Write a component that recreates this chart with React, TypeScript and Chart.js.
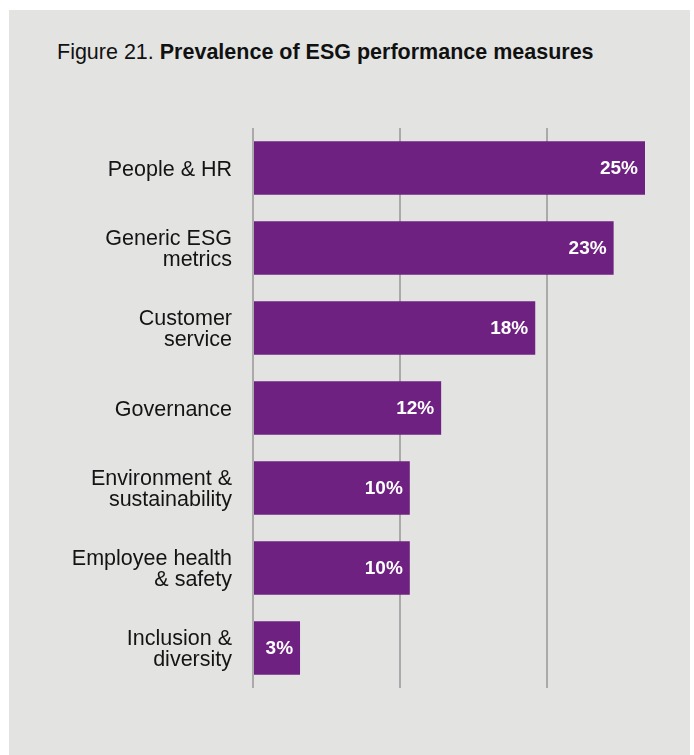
import React, { useEffect, useRef } from "react";
import { Chart, registerables } from "chart.js";

Chart.register(...registerables);

const categories: string[][] = [
  ["People & HR"],
  ["Generic ESG", "metrics"],
  ["Customer", "service"],
  ["Governance"],
  ["Environment &", "sustainability"],
  ["Employee health", "& safety"],
  ["Inclusion &", "diversity"],
];
const values: number[] = [25, 23, 18, 12, 10, 10, 3];
const gridValues: number[] = [0, 9.375, 18.75];
const axisMax = 27.87;

const FONT = "'Liberation Sans', Arial, Helvetica, sans-serif";
const BG = "#e3e4e2";
const BAR = "#6e2180";

const valueLabels = {
  id: "valueLabels",
  afterDatasetsDraw(chart: any) {
    const ctx = chart.ctx;
    const meta = chart.getDatasetMeta(0);
    ctx.save();
    ctx.fillStyle = "#ffffff";
    ctx.font = `bold 19px ${FONT}`;
    ctx.textAlign = "right";
    ctx.textBaseline = "middle";
    meta.data.forEach((bar: any, i: number) => {
      ctx.fillText(`${values[i]}%`, bar.x - 7, bar.y + 1);
    });
    ctx.restore();
  },
};

export default function App() {
  const ref = useRef<HTMLCanvasElement>(null);
  useEffect(() => {
    if (!ref.current) return;
    const chart = new Chart(ref.current, {
      type: "bar",
      data: {
        labels: categories,
        datasets: [
          {
            data: values,
            backgroundColor: BAR,
            borderWidth: 0,
            categoryPercentage: 1,
            barPercentage: 0.67,
          },
        ],
      },
      options: {
        indexAxis: "y",
        responsive: false,
        animation: false,
        devicePixelRatio: 1,
        layout: { padding: { top: 118, bottom: 67, left: 0, right: 0 } },
        plugins: {
          legend: { display: false },
          tooltip: { enabled: false },
          title: { display: false },
        },
        scales: {
          x: {
            min: 0,
            max: axisMax,
            afterBuildTicks: (axis: any) => {
              axis.ticks = gridValues.map((v) => ({ value: v }));
            },
            afterFit: (axis: any) => {
              axis.height = 0;
            },
            ticks: { display: false },
            border: { display: false },
            grid: {
              color: "#a9aaa9",
              lineWidth: 2,
              drawTicks: false,
            },
          },
          y: {
            afterFit: (axis: any) => {
              axis.width = 244;
            },
            border: { display: false },
            grid: { display: false, drawTicks: false },
            ticks: {
              color: "#141414",
              padding: 21,
              labelOffset: 2,
              font: { family: FONT, size: 21.5, lineHeight: 0.98 },
            },
          },
        },
      },
      plugins: [valueLabels],
    });
    return () => chart.destroy();
  }, []);

  return (
    <div
      style={{
        position: "fixed",
        left: 0,
        top: 0,
        width: 694,
        height: 755,
        background: "#ffffff",
        overflow: "hidden",
      }}
    >
      <div
        style={{
          position: "absolute",
          left: 9,
          top: 10,
          width: 681,
          height: 745,
          background: BG,
        }}
      >
        <div
          style={{
            position: "absolute",
            left: 48,
            top: 30,
            fontFamily: FONT,
            fontSize: 21.5,
            color: "#111111",
            whiteSpace: "nowrap",
          }}
        >
          Figure 21. <b>Prevalence of ESG performance measures</b>
        </div>
        <canvas
          ref={ref}
          width={681}
          height={745}
          style={{ position: "absolute", left: 0, top: 0, width: 681, height: 745 }}
        />
      </div>
    </div>
  );
}
